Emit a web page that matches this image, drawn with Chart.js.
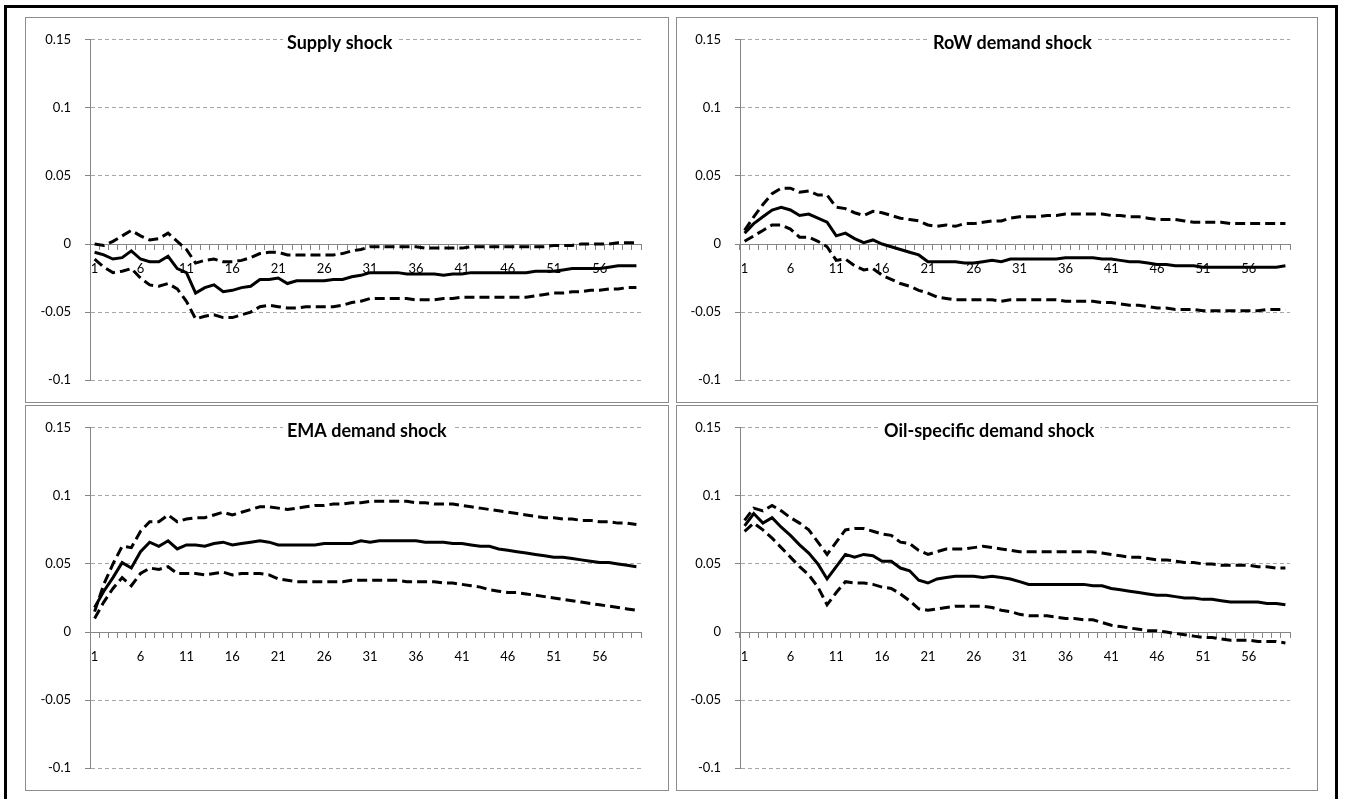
<!DOCTYPE html>
<html>
<head>
<meta charset="utf-8">
<title>Impulse responses</title>
<script src="https://cdn.jsdelivr.net/npm/chart.js"></script>
<style>
    body { margin: 0; background: #fff; }
    #lienzo { position: relative; width: 1346px; height: 799px; overflow: hidden; background: #fff; }
    .marco { position: absolute; left: 4px; top: 5px; width: 1334px; height: 800px; border: 3px solid #000; box-sizing: border-box; }
    .panel { position: absolute; border: 1px solid #8c8c8c; box-sizing: border-box; }
    canvas { position: absolute; }
</style>
</head>
<body>
<div id="lienzo">
    <div class="marco"></div>
    <div class="panel" style="left:25px;top:17px;width:644px;height:386px"></div>
    <div class="panel" style="left:676px;top:17px;width:642px;height:386px"></div>
    <div class="panel" style="left:25px;top:405px;width:644px;height:386px"></div>
    <div class="panel" style="left:676px;top:405px;width:642px;height:386px"></div>
    <canvas id="g1" width="642" height="384" style="left:26px;top:18px"></canvas>
    <canvas id="g2" width="640" height="384" style="left:677px;top:18px"></canvas>
    <canvas id="g3" width="642" height="384" style="left:26px;top:406px"></canvas>
    <canvas id="g4" width="640" height="384" style="left:677px;top:406px"></canvas>
</div>
<script>
// horizons 1..60 and y tick values
const horizons = [1, 2, 3, 4, 5, 6, 7, 8, 9, 10, 11, 12, 13, 14, 15, 16, 17, 18, 19, 20,
    21, 22, 23, 24, 25, 26, 27, 28, 29, 30, 31, 32, 33, 34, 35, 36, 37, 38, 39, 40,
    41, 42, 43, 44, 45, 46, 47, 48, 49, 50, 51, 52, 53, 54, 55, 56, 57, 58, 59, 60];
const yTicks = [-0.1, -0.05, 0, 0.05, 0.1, 0.15];

// Supply shock
const supplyMid = [-0.006, -0.008, -0.011, -0.010, -0.005, -0.011, -0.013, -0.013, -0.009, -0.018,
    -0.021, -0.036, -0.032, -0.030, -0.035, -0.034, -0.032, -0.031, -0.026, -0.026,
    -0.025, -0.029, -0.027, -0.027, -0.027, -0.027, -0.026, -0.026, -0.024, -0.023,
    -0.021, -0.021, -0.021, -0.021, -0.022, -0.022, -0.022, -0.022, -0.023, -0.022,
    -0.022, -0.021, -0.021, -0.021, -0.021, -0.021, -0.021, -0.021, -0.020, -0.020,
    -0.020, -0.019, -0.018, -0.018, -0.018, -0.018, -0.017, -0.016, -0.016, -0.016];
const supplyHi = [0.000, -0.001, 0.002, 0.006, 0.010, 0.006, 0.003, 0.004, 0.008, 0.002,
    -0.004, -0.014, -0.012, -0.011, -0.013, -0.013, -0.012, -0.010, -0.007, -0.006,
    -0.006, -0.008, -0.008, -0.008, -0.008, -0.008, -0.008, -0.007, -0.005, -0.004,
    -0.002, -0.002, -0.002, -0.002, -0.002, -0.002, -0.003, -0.003, -0.003, -0.003,
    -0.003, -0.002, -0.002, -0.002, -0.002, -0.002, -0.002, -0.002, -0.002, -0.002,
    -0.001, -0.001, -0.001, 0.000, 0.000, 0.000, 0.000, 0.001, 0.001, 0.001];
const supplyLo = [-0.011, -0.017, -0.021, -0.020, -0.018, -0.025, -0.030, -0.031, -0.029, -0.033,
    -0.042, -0.055, -0.053, -0.052, -0.054, -0.054, -0.052, -0.050, -0.046, -0.045,
    -0.046, -0.047, -0.047, -0.046, -0.046, -0.046, -0.046, -0.045, -0.043, -0.042,
    -0.040, -0.040, -0.040, -0.040, -0.040, -0.041, -0.041, -0.041, -0.040, -0.040,
    -0.039, -0.039, -0.039, -0.039, -0.039, -0.039, -0.039, -0.039, -0.038, -0.037,
    -0.036, -0.036, -0.035, -0.035, -0.034, -0.034, -0.033, -0.033, -0.032, -0.032];

// RoW demand shock
const rowMid = [0.008, 0.015, 0.020, 0.025, 0.027, 0.025, 0.021, 0.022, 0.019, 0.016,
    0.006, 0.008, 0.004, 0.001, 0.003, 0.000, -0.002, -0.004, -0.006, -0.008,
    -0.013, -0.013, -0.013, -0.013, -0.014, -0.014, -0.013, -0.012, -0.013, -0.011,
    -0.011, -0.011, -0.011, -0.011, -0.011, -0.010, -0.010, -0.010, -0.010, -0.011,
    -0.011, -0.012, -0.013, -0.013, -0.014, -0.015, -0.015, -0.016, -0.016, -0.016,
    -0.017, -0.017, -0.017, -0.017, -0.017, -0.017, -0.017, -0.017, -0.017, -0.016];
const rowHi = [0.010, 0.020, 0.029, 0.037, 0.041, 0.041, 0.038, 0.039, 0.036, 0.036,
    0.027, 0.026, 0.023, 0.021, 0.024, 0.023, 0.021, 0.019, 0.018, 0.017,
    0.014, 0.013, 0.014, 0.013, 0.015, 0.015, 0.016, 0.017, 0.017, 0.019,
    0.020, 0.020, 0.020, 0.021, 0.021, 0.022, 0.022, 0.022, 0.022, 0.022,
    0.021, 0.021, 0.020, 0.020, 0.019, 0.018, 0.018, 0.018, 0.017, 0.016,
    0.016, 0.016, 0.016, 0.015, 0.015, 0.015, 0.015, 0.015, 0.015, 0.015];
const rowLo = [0.002, 0.006, 0.010, 0.014, 0.014, 0.011, 0.005, 0.005, 0.002, -0.002,
    -0.012, -0.011, -0.016, -0.019, -0.018, -0.023, -0.026, -0.029, -0.031, -0.034,
    -0.036, -0.039, -0.040, -0.041, -0.041, -0.041, -0.041, -0.041, -0.042, -0.041,
    -0.041, -0.041, -0.041, -0.041, -0.041, -0.042, -0.042, -0.042, -0.042, -0.043,
    -0.043, -0.044, -0.045, -0.045, -0.046, -0.047, -0.047, -0.048, -0.048, -0.048,
    -0.049, -0.049, -0.049, -0.049, -0.049, -0.049, -0.049, -0.048, -0.048, -0.048];

// EMA demand shock
const emaMid = [0.018, 0.030, 0.040, 0.051, 0.047, 0.059, 0.066, 0.063, 0.067, 0.061,
    0.064, 0.064, 0.063, 0.065, 0.066, 0.064, 0.065, 0.066, 0.067, 0.066,
    0.064, 0.064, 0.064, 0.064, 0.064, 0.065, 0.065, 0.065, 0.065, 0.067,
    0.066, 0.067, 0.067, 0.067, 0.067, 0.067, 0.066, 0.066, 0.066, 0.065,
    0.065, 0.064, 0.063, 0.063, 0.061, 0.060, 0.059, 0.058, 0.057, 0.056,
    0.055, 0.055, 0.054, 0.053, 0.052, 0.051, 0.051, 0.050, 0.049, 0.048];
const emaHi = [0.015, 0.035, 0.050, 0.063, 0.062, 0.074, 0.081, 0.081, 0.086, 0.081,
    0.083, 0.084, 0.084, 0.086, 0.088, 0.086, 0.088, 0.090, 0.092, 0.092,
    0.091, 0.090, 0.091, 0.092, 0.093, 0.093, 0.094, 0.094, 0.095, 0.095,
    0.096, 0.096, 0.096, 0.096, 0.096, 0.095, 0.095, 0.094, 0.094, 0.094,
    0.093, 0.092, 0.091, 0.090, 0.089, 0.088, 0.087, 0.086, 0.085, 0.084,
    0.084, 0.083, 0.083, 0.082, 0.082, 0.081, 0.081, 0.080, 0.080, 0.079];
const emaLo = [0.010, 0.022, 0.032, 0.040, 0.034, 0.043, 0.047, 0.046, 0.048, 0.043,
    0.043, 0.043, 0.042, 0.043, 0.044, 0.042, 0.043, 0.043, 0.043, 0.042,
    0.039, 0.038, 0.037, 0.037, 0.037, 0.037, 0.037, 0.037, 0.038, 0.038,
    0.038, 0.038, 0.038, 0.038, 0.037, 0.037, 0.037, 0.037, 0.036, 0.036,
    0.035, 0.034, 0.033, 0.031, 0.030, 0.029, 0.029, 0.028, 0.027, 0.026,
    0.025, 0.024, 0.023, 0.022, 0.021, 0.020, 0.019, 0.018, 0.017, 0.016];

// Oil-specific demand shock
const oilMid = [0.078, 0.087, 0.080, 0.084, 0.077, 0.071, 0.064, 0.058, 0.050, 0.039,
    0.048, 0.057, 0.055, 0.057, 0.056, 0.052, 0.052, 0.047, 0.045, 0.038,
    0.036, 0.039, 0.040, 0.041, 0.041, 0.041, 0.040, 0.041, 0.040, 0.039,
    0.037, 0.035, 0.035, 0.035, 0.035, 0.035, 0.035, 0.035, 0.034, 0.034,
    0.032, 0.031, 0.030, 0.029, 0.028, 0.027, 0.027, 0.026, 0.025, 0.025,
    0.024, 0.024, 0.023, 0.022, 0.022, 0.022, 0.022, 0.021, 0.021, 0.020];
const oilHi = [0.082, 0.091, 0.089, 0.093, 0.089, 0.084, 0.080, 0.075, 0.066, 0.057,
    0.066, 0.075, 0.076, 0.076, 0.074, 0.072, 0.071, 0.066, 0.065, 0.060,
    0.057, 0.059, 0.061, 0.061, 0.061, 0.062, 0.063, 0.062, 0.061, 0.060,
    0.059, 0.059, 0.059, 0.059, 0.059, 0.059, 0.059, 0.059, 0.059, 0.058,
    0.057, 0.056, 0.055, 0.055, 0.054, 0.053, 0.053, 0.052, 0.051, 0.051,
    0.050, 0.050, 0.049, 0.049, 0.049, 0.049, 0.048, 0.048, 0.047, 0.047];
const oilLo = [0.074, 0.080, 0.075, 0.069, 0.062, 0.055, 0.048, 0.042, 0.033, 0.020,
    0.029, 0.037, 0.036, 0.036, 0.035, 0.033, 0.032, 0.028, 0.023, 0.017,
    0.016, 0.017, 0.018, 0.019, 0.019, 0.019, 0.019, 0.018, 0.016, 0.015,
    0.013, 0.012, 0.012, 0.012, 0.011, 0.010, 0.010, 0.009, 0.009, 0.007,
    0.005, 0.004, 0.003, 0.002, 0.001, 0.001, 0.000, -0.001, -0.002, -0.003,
    -0.004, -0.004, -0.005, -0.006, -0.006, -0.006, -0.007, -0.007, -0.007, -0.008];

const fuente = "Lato, 'Open Sans', sans-serif";

// title text box drawn inside the plot, white behind it like the Excel text box
const tituloPanel = {
    id: "tituloPanel",
    afterDraw(chart, args, opts) {
        const ctx = chart.ctx;
        ctx.save();
        ctx.font = `bold 18px ${fuente}`;
        const ancho = ctx.measureText(opts.text).width;
        ctx.fillStyle = "#fff";
        ctx.fillRect(opts.x - 4, opts.y - 16, ancho + 10, 21);
        ctx.fillStyle = "#000";
        ctx.textBaseline = "alphabetic";
        ctx.fillText(opts.text, opts.x, opts.y);
        ctx.restore();
    }
};

function linea(valores, punteada) {
    return {
        data: valores,
        borderColor: "#000",
        borderWidth: 3,
        borderDash: punteada ? [10, 5] : [],
        pointRadius: 0,
        tension: 0,
        fill: false
    };
}

function crearGrafico(id, titulo, tx, ty, anchoEje, mid, hi, lo) {
    const ctx = document.getElementById(id).getContext("2d");
    new Chart(ctx, {
        type: "line",
        data: {
            labels: horizons,
            datasets: [linea(hi, true), linea(lo, true), linea(mid, false)]
        },
        options: {
            responsive: false,
            animation: false,
            events: [],
            layout: { padding: { left: 0, right: 27, top: 17, bottom: 17 } },
            plugins: {
                legend: { display: false },
                tooltip: { enabled: false },
                tituloPanel: { text: titulo, x: tx, y: ty }
            },
            scales: {
                x: {
                    type: "category",
                    position: { y: 0 },
                    offset: true,
                    grid: { drawOnChartArea: false, drawTicks: true, tickLength: 5, color: "#868686", offset: true },
                    border: { color: "#868686", width: 1 },
                    ticks: {
                        autoSkip: false,
                        maxRotation: 0,
                        padding: 12,
                        color: "#000",
                        font: { family: fuente, size: 13 },
                        callback: function (v, i) {
                            return i % 5 === 0 ? String(horizons[i]) : "";
                        }
                    }
                },
                y: {
                    min: -0.1,
                    max: 0.15,
                    afterBuildTicks: axis => { axis.ticks = yTicks.map(v => ({ value: v })); },
                    afterFit: axis => { axis.width = anchoEje; },
                    grid: {
                        color: c => (c.tick && c.tick.value === 0) ? "rgba(0,0,0,0)" : "#a6a6a6",
                        tickLength: 5,
                        tickColor: "#868686"
                    },
                    border: { color: "#868686", dash: [4, 3] },
                    ticks: {
                        padding: 14,
                        color: "#000",
                        font: { family: fuente, size: 13 },
                        callback: v => String(v)
                    }
                }
            }
        },
        plugins: [tituloPanel]
    });
}

crearGrafico("g1", "Supply shock", 261, 31, 64, supplyMid, supplyHi, supplyLo);
crearGrafico("g2", "RoW demand shock", 256, 31, 63, rowMid, rowHi, rowLo);
crearGrafico("g3", "EMA demand shock", 261, 31, 64, emaMid, emaHi, emaLo);
crearGrafico("g4", "Oil-specific demand shock", 207, 31, 63, oilMid, oilHi, oilLo);
</script>
</body>
</html>
